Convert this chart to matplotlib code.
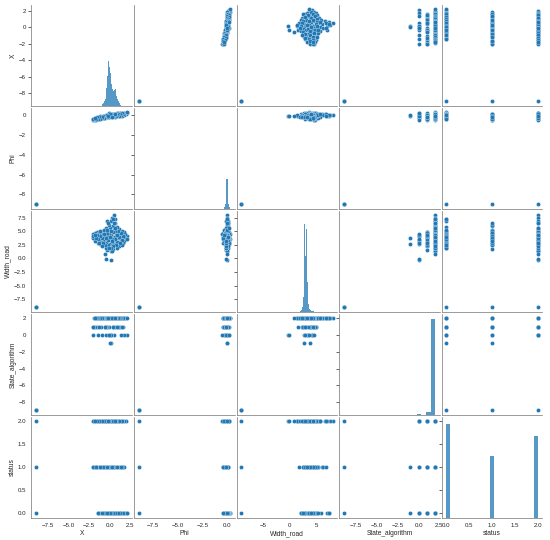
import numpy as np
import matplotlib
matplotlib.use("Agg")
import matplotlib.pyplot as plt
import seaborn as sns

columns = ['X', 'Phi', 'Width_road', 'State_algorithm', 'status']

# one entry per row of the table (the last three rows are the -9 fill values)
x_vals = [2.05, 1.95, 1.85, 1.75, 1.7, 1.6, 1.55, 1.45, 1.4, 1.35,
          1.3, 1.2, 1.15, 1.1, 1.0, 0.95, 0.9, 0.85, 0.8, 0.75,
          0.7, 0.65, 0.6, 0.55, 0.5, 0.5, 0.45, 0.4, 0.35, 0.3,
          0.25, 0.2, 0.2, 0.15, 0.1, 0.05, 0.0, 0.0, -0.05, -0.1,
          -0.1, -0.15, -0.2, -0.25, -0.3, -0.35, -0.4, -0.45, -0.5, -0.55,
          -0.6, -0.65, -0.7, -0.8, -0.85, -0.9, -1.0, -1.05, -1.1, -1.2,
          -1.25, -1.3, -1.4, -1.45, -1.5, -1.6, -1.65, -1.75, -1.8, -1.9,
          -2.0, -2.05, 0.3, -0.3, 0.55, 0.35, 0.2, -0.4, -0.6, 1.05,
          0.6, -0.75, -1.15, 1.25, 1.8, 2.15, -2.1, 0.9, -0.05, 1.55,
          1.65, 1.5, 1.35, 1.2, 1.1, 1.0, 0.9, 0.8, 0.7, 0.65,
          0.45, 0.4, 0.3, 0.15, 0.1, -0.05, -0.2, -0.3, -0.45, -0.55,
          -0.7, -0.8, -0.95, -1.0, -1.15, -1.3, -1.4, -1.55, -1.7, -1.85,
          0.0, 0.25, -0.35, 0.6, -0.15,
          -9, -9, -9]
phi_vals = [0.22, 0.15, 0.28, 0.10, 0.2, 0.05, 0.18, 0.12, 0.02, 0.2,
            0.08, -0.02, 0.15, 0.05, 0.1, -0.05, 0.12, 0.0, 0.08, -0.1,
            0.15, 0.02, -0.05, 0.1, 0.0, 0.05, -0.08, 0.12, 0.0, -0.12,
            0.05, 0.02, -0.05, 0.08, -0.03, -0.1, 0.02, -0.08, 0.05, -0.15,
            0.0, -0.05, -0.12, 0.02, -0.1, -0.2, -0.05, -0.15, -0.08, -0.22,
            -0.1, -0.18, -0.05, -0.25, -0.12, -0.2, -0.28, -0.15, -0.3, -0.2,
            -0.35, -0.25, -0.3, -0.38, -0.28, -0.35, -0.42, -0.3, -0.45, -0.38,
            -0.48, -0.4, 0.0, -0.08, 0.12, 0.05, -0.02, -0.1, -0.05, 0.2,
            -0.15, -0.3, -0.1, 0.25, 0.02, 0.3, -0.35, 0.22, 0.2, -0.05,
            0.12, 0.22, 0.05, 0.18, -0.02, 0.15, 0.05, -0.08, 0.1, 0.0,
            0.08, -0.1, 0.1, -0.08, 0.12, -0.12, 0.08, -0.18, 0.0, -0.12,
            -0.22, -0.1, -0.25, -0.12, -0.32, -0.15, -0.4, -0.2, -0.36, -0.28,
            0.1, -0.15, 0.05, 0.18, -0.05,
            -9, -9, -9]
width_vals = [4.1, 3.6, 4.4, 3.2, 4.8, 2.8, 3.9, 5.0, 3.4, 2.6,
              4.3, 3.0, 5.4, 2.3, 3.7, 4.9, 2.0, 5.8, 3.1, 4.4,
              6.5, 2.6, 7.2, 5.2, 3.4, 7.9, 1.7, 6.0, 4.0, 2.9,
              7.5, 4.3, 1.4, 6.8, 3.8, 5.5, 2.7, 3.3, 4.5, 2.6,
              6.2, 3.9, 5.0, 2.5, 1.6, 4.2, 3.0, 5.6, 2.0, 3.6,
              4.8, 2.7, 4.0, 3.3, 5.0, 2.8, 4.5, 3.0, 3.8, 2.6,
              4.7, 3.4, 4.1, 2.9, 4.9, 3.7, 4.4, 3.2, 4.6, 4.0,
              4.5, 3.8, 1.3, 6.9, 6.6, 7.2, -0.3, -0.2, 0.8, 4.6,
              4.0, 5.3, 5.0, 3.8, 4.0, 3.5, 4.2, 3.0, 3.6, 2.5,
              4.2, 3.3, 4.6, 2.8, 4.0, 5.1, 4.3, 2.4, 3.6, 5.0,
              2.3, 4.8, 3.5, 2.0, 5.0, 1.9, 3.4, 4.6, 3.8, 2.4,
              4.5, 2.9, 3.7, 2.2, 4.2, 2.8, 3.6, 4.3, 3.8, 4.3,
              4.0, 3.2, 5.3, 5.6, 6.6,
              -9, -9, -9]
state_vals = [0, 2, 2, 0, 2, 1, 2, 2, 0, 2,
              1, 2, 2, 1, 2, 1, 2, 2, 2, 2,
              2, 2, 2, 2, 0, 2, 2, 2, 1, 2,
              2, 0, 2, 2, -1, 2, -1, 2, 1, 0,
              2, 2, 2, 2, 1, 2, 1, 2, 2, 2,
              1, 2, 2, 2, 2, 0, 2, 2, 1, 2,
              2, 2, 0, 2, 2, 1, 2, 2, 1, 2,
              0, 1, 2, 2, 2, 2, 0, 0, 2, 2,
              1, 2, 2, 2, 2, 2, 1, 2, 0, 2,
              2, 1, 2, 2, 2, 2, 1, 2, 2, 2,
              1, 2, 2, 2, 2, 2, 2, 2, 2, 1,
              2, 2, 2, 2, 2, 1, 2, 2, 2, 2,
              2, 2, 2, 2, 2,
              -9, -9, -9]
status_vals = [0, 2, 0, 2, 0, 1, 2, 0, 1, 2,
               0, 1, 2, 0, 1, 2, 0, 0, 2, 1,
               2, 0, 0, 1, 2, 2, 1, 1, 0, 2,
               2, 0, 2, 0, 1, 2, 0, 1, 2, 2,
               1, 0, 2, 1, 2, 0, 1, 2, 0, 1,
               2, 0, 1, 2, 0, 1, 2, 0, 1, 2,
               1, 0, 2, 0, 1, 2, 1, 2, 1, 2,
               2, 1, 2, 2, 1, 0, 2, 2, 2, 0,
               0, 1, 2, 0, 1, 0, 1, 2, 0, 1,
               0, 2, 1, 0, 2, 0, 1, 2, 0, 2,
               0, 2, 1, 0, 1, 2, 0, 1, 2, 0,
               2, 1, 0, 2, 1, 2, 0, 2, 1, 2,
               0, 1, 0, 2, 2,
               0, 1, 2]

# diagonal histograms: first bin edge, bin width, counts
x_hist_start, x_hist_width = -1.0, 0.1
x_hist_counts = [50, 100, 150, 250, 350, 500, 910, 1510, 2220, 1920, 1660, 1410,
                 1110, 860, 760, 810, 960, 860, 500, 350, 250, 150, 100, 50]
phi_hist_start, phi_hist_width = -0.30, 0.04
phi_hist_counts = [50, 100, 150, 250, 400, 660, 1510, 2420, 1510, 710, 400, 250,
                   150, 100, 50]
width_hist_start, width_hist_width = 1.8, 0.1
width_hist_counts = [25, 50, 75, 100, 150, 250, 400, 760, 1510, 4380, 3020, 2770,
                     4130, 2770, 1510, 760, 400, 250, 150, 100, 75, 50, 50, 25, 25, 25]
state_hist_left = [-9.0, -1.3, -0.2, 0.9, 1.45]
state_hist_width = 0.55
state_hist_counts = [10, 10, 40, 130, 4800]
status_hist_left = [0.0, 0.96, 1.92]
status_hist_width = 0.08
status_hist_counts = [4690, 3075, 4080]

sns.set_theme(style='white', rc={'axes.edgecolor': '0.45'})
plt.rcParams['font.family'] = ['Liberation Sans', 'DejaVu Sans']

data = [np.array(v, dtype=float) for v in
        (x_vals, phi_vals, width_vals, state_vals, status_vals)]
hists = [
    (x_hist_start + x_hist_width * np.arange(len(x_hist_counts)), x_hist_width, x_hist_counts),
    (phi_hist_start + phi_hist_width * np.arange(len(phi_hist_counts)), phi_hist_width, phi_hist_counts),
    (width_hist_start + width_hist_width * np.arange(len(width_hist_counts)), width_hist_width, width_hist_counts),
    (np.array(state_hist_left), state_hist_width, state_hist_counts),
    (np.array(status_hist_left), status_hist_width, status_hist_counts),
]

dpi = 40
fig, axes = plt.subplots(5, 5, figsize=(550 / dpi, 540 / dpi), dpi=dpi,
                         sharex='col', sharey='row')
fig.subplots_adjust(left=0.057, right=0.986, bottom=0.041, top=0.991,
                    wspace=0.02, hspace=0.02)
color = '#1f77b4'

diag_axes = []
n = len(columns)
for i in range(n):
    for j in range(n):
        ax = axes[i, j]
        sns.despine(ax=ax)
        if i == j:
            hax = ax.twinx()
            left, width, counts = hists[i]
            hax.bar(left, counts, width=width, align='edge', color=color,
                    alpha=0.75, linewidth=0)
            hax.yaxis.set_visible(False)
            for s in hax.spines.values():
                s.set_visible(False)
            diag_axes.append(hax)
        else:
            ax.scatter(data[j], data[i], s=55, color=color,
                       edgecolor='white', linewidth=0.5)
    axes[i, 0].set_ylabel(columns[i])
    axes[n - 1, i].set_xlabel(columns[i])

top = max(max(h[2]) for h in hists) * 1.05
for hax in diag_axes:
    hax.set_ylim(0, top)

fig.savefig('out.png', dpi=dpi)
